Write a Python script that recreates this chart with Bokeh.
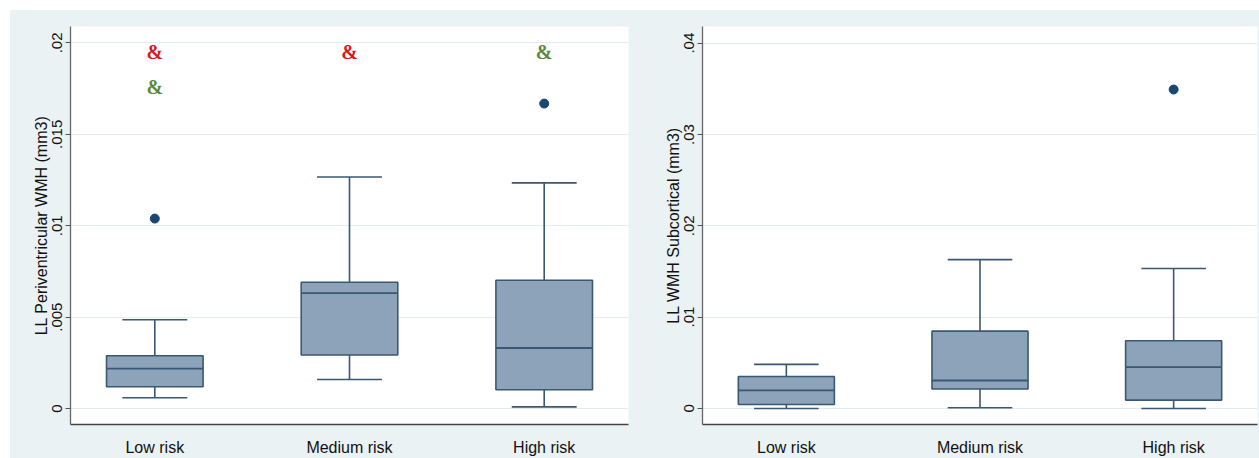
from bokeh.plotting import figure
from bokeh.layouts import row, column
from bokeh.models import ColumnDataSource, FixedTicker, Range1d, Spacer
from bokeh.transform import dodge, factor_cmap
from bokeh.core.properties import value
from bokeh.embed import file_html
from bokeh.resources import INLINE

# ---------------- data ----------------
categories = ["Low risk", "Medium risk", "High risk"]
positions = [1, 2, 3]

peri_lower = [0.00059, 0.00159, 0.00009]
peri_q1 = [0.00119, 0.00293, 0.00103]
peri_median = [0.00218, 0.00631, 0.00331]
peri_q3 = [0.00289, 0.00691, 0.00702]
peri_upper = [0.00486, 0.01266, 0.01234]
peri_outlier_x = [1, 3]
peri_outlier_y = [0.01039, 0.01668]
peri_ticks = [0, 0.005, 0.01, 0.015, 0.02]
peri_tick_labels = ["0", ".005", ".01", ".015", ".02"]

sub_lower = [0.0, 0.00008, 0.0]
sub_q1 = [0.00043, 0.00213, 0.00091]
sub_median = [0.00198, 0.00306, 0.00453]
sub_q3 = [0.00349, 0.00846, 0.00741]
sub_upper = [0.00482, 0.01629, 0.01532]
sub_outlier_x = [3]
sub_outlier_y = [0.03492]
sub_ticks = [0, 0.01, 0.02, 0.03, 0.04]
sub_tick_labels = ["0", ".01", ".02", ".03", ".04"]

mark_x = [1, 2, 3, 1]
mark_y = [0.0195, 0.0195, 0.0195, 0.01759]
mark_text = ["&", "&", "&", "&"]
mark_group = ["A", "A", "B", "B"]

# ---------------- style ----------------
BG = "#eaf2f3"
GRID = "#e4ecef"
BOX_FILL = "#8da3b9"
BOX_LINE = "#3a5873"
DOT = "#1a476f"
RED = "#d7191c"
GREEN = "#5b8a3c"
FONT = "Liberation Sans"


def make_panel(width, height, b_left, b_right, b_top, y_range, ticks, tick_labels, ylabel,
               lower, q1, med, q3, upper, ox, oy, marks=False):
    p = figure(width=width, height=height, output_backend="svg", toolbar_location=None,
               x_range=Range1d(0.567, 3.433), y_range=Range1d(*y_range),
               min_border_left=b_left, min_border_right=b_right,
               min_border_top=b_top, min_border_bottom=28)
    p.border_fill_color = BG
    p.background_fill_color = "white"
    p.outline_line_color = None

    src = ColumnDataSource(dict(x=positions, lower=lower, q1=q1, med=med, q3=q3, upper=upper))
    # whiskers
    p.segment(x0="x", y0="q3", x1="x", y1="upper", source=src, line_color=BOX_LINE, line_width=1.6)
    p.segment(x0="x", y0="q1", x1="x", y1="lower", source=src, line_color=BOX_LINE, line_width=1.6)
    p.segment(x0=dodge("x", -0.1667), y0="upper", x1=dodge("x", 0.1667), y1="upper",
              source=src, line_color=BOX_LINE, line_width=1.6)
    p.segment(x0=dodge("x", -0.1667), y0="lower", x1=dodge("x", 0.1667), y1="lower",
              source=src, line_color=BOX_LINE, line_width=1.6)
    # boxes
    p.vbar(x="x", bottom="q1", top="q3", width=0.496, source=src,
           fill_color=BOX_FILL, line_color=BOX_LINE, line_width=1.6)
    p.segment(x0=dodge("x", -0.248), y0="med", x1=dodge("x", 0.248), y1="med",
              source=src, line_color=BOX_LINE, line_width=1.8)
    # outliers
    p.scatter(x=ox, y=oy, size=9, fill_color=DOT, line_color=DOT)

    if marks:
        msrc = ColumnDataSource(dict(x=mark_x, y=mark_y, t=mark_text, g=mark_group))
        p.text(x="x", y="y", text="t", source=msrc,
               text_color=factor_cmap("g", [RED, GREEN], ["A", "B"]),
               text_font=value("Liberation Serif"), text_font_style="bold",
               text_font_size="20px", text_align="center", text_baseline="middle")

    # axes
    p.xaxis.ticker = FixedTicker(ticks=positions)
    p.xaxis.major_label_overrides = {pos: c for pos, c in zip(positions, categories)}
    p.xaxis.major_tick_line_color = None
    p.xaxis.minor_tick_line_color = None
    p.xaxis.major_label_text_font = FONT
    p.xaxis.major_label_text_font_size = "16px"
    p.xaxis.major_label_text_color = "#111111"
    p.xaxis.major_label_standoff = 8
    p.xaxis.axis_line_color = "#444444"
    p.xaxis.axis_line_width = 1.3

    p.yaxis.ticker = FixedTicker(ticks=ticks)
    p.yaxis.major_label_overrides = {t: l for t, l in zip(ticks, tick_labels)}
    p.yaxis.major_label_orientation = "vertical"
    p.yaxis.minor_tick_line_color = None
    p.yaxis.major_tick_out = 5
    p.yaxis.major_tick_in = 0
    p.yaxis.major_tick_line_color = "#555555"
    p.yaxis.major_label_text_font = FONT
    p.yaxis.major_label_text_font_size = "15px"
    p.yaxis.major_label_text_color = "#111111"
    p.yaxis.major_label_standoff = 3
    p.yaxis.axis_line_color = "#666666"
    p.yaxis.axis_line_width = 1.3
    p.yaxis.axis_label = ylabel
    p.yaxis.axis_label_text_font = FONT
    p.yaxis.axis_label_text_font_style = "normal"
    p.yaxis.axis_label_text_font_size = "16px"
    p.yaxis.axis_label_text_color = "#111111"
    p.yaxis.axis_label_standoff = 0

    p.xgrid.visible = False
    p.ygrid.ticker = FixedTicker(ticks=ticks)
    p.ygrid.grid_line_color = GRID
    p.ygrid.grid_line_width = 1.2
    return p


p1 = make_panel(645, 448, 60, 27, 14, (-0.000873, 0.020895), peri_ticks, peri_tick_labels,
                "LL Periventricular WMH (mm3)",
                peri_lower, peri_q1, peri_median, peri_q3, peri_upper,
                peri_outlier_x, peri_outlier_y, marks=True)

p2 = make_panel(604, 448, 47, 2, 16, (-0.00176, 0.04182), sub_ticks, sub_tick_labels,
                "LL WMH Subcortical (mm3)",
                sub_lower, sub_q1, sub_median, sub_q3, sub_upper,
                sub_outlier_x, sub_outlier_y)

panels = row(p1, p2, spacing=0, styles={"background-color": BG})
layout = column(Spacer(width=1259, height=10),
                row(Spacer(width=10, height=448), panels, spacing=0), spacing=0)
open("out.html", "w").write(file_html(layout, INLINE))
